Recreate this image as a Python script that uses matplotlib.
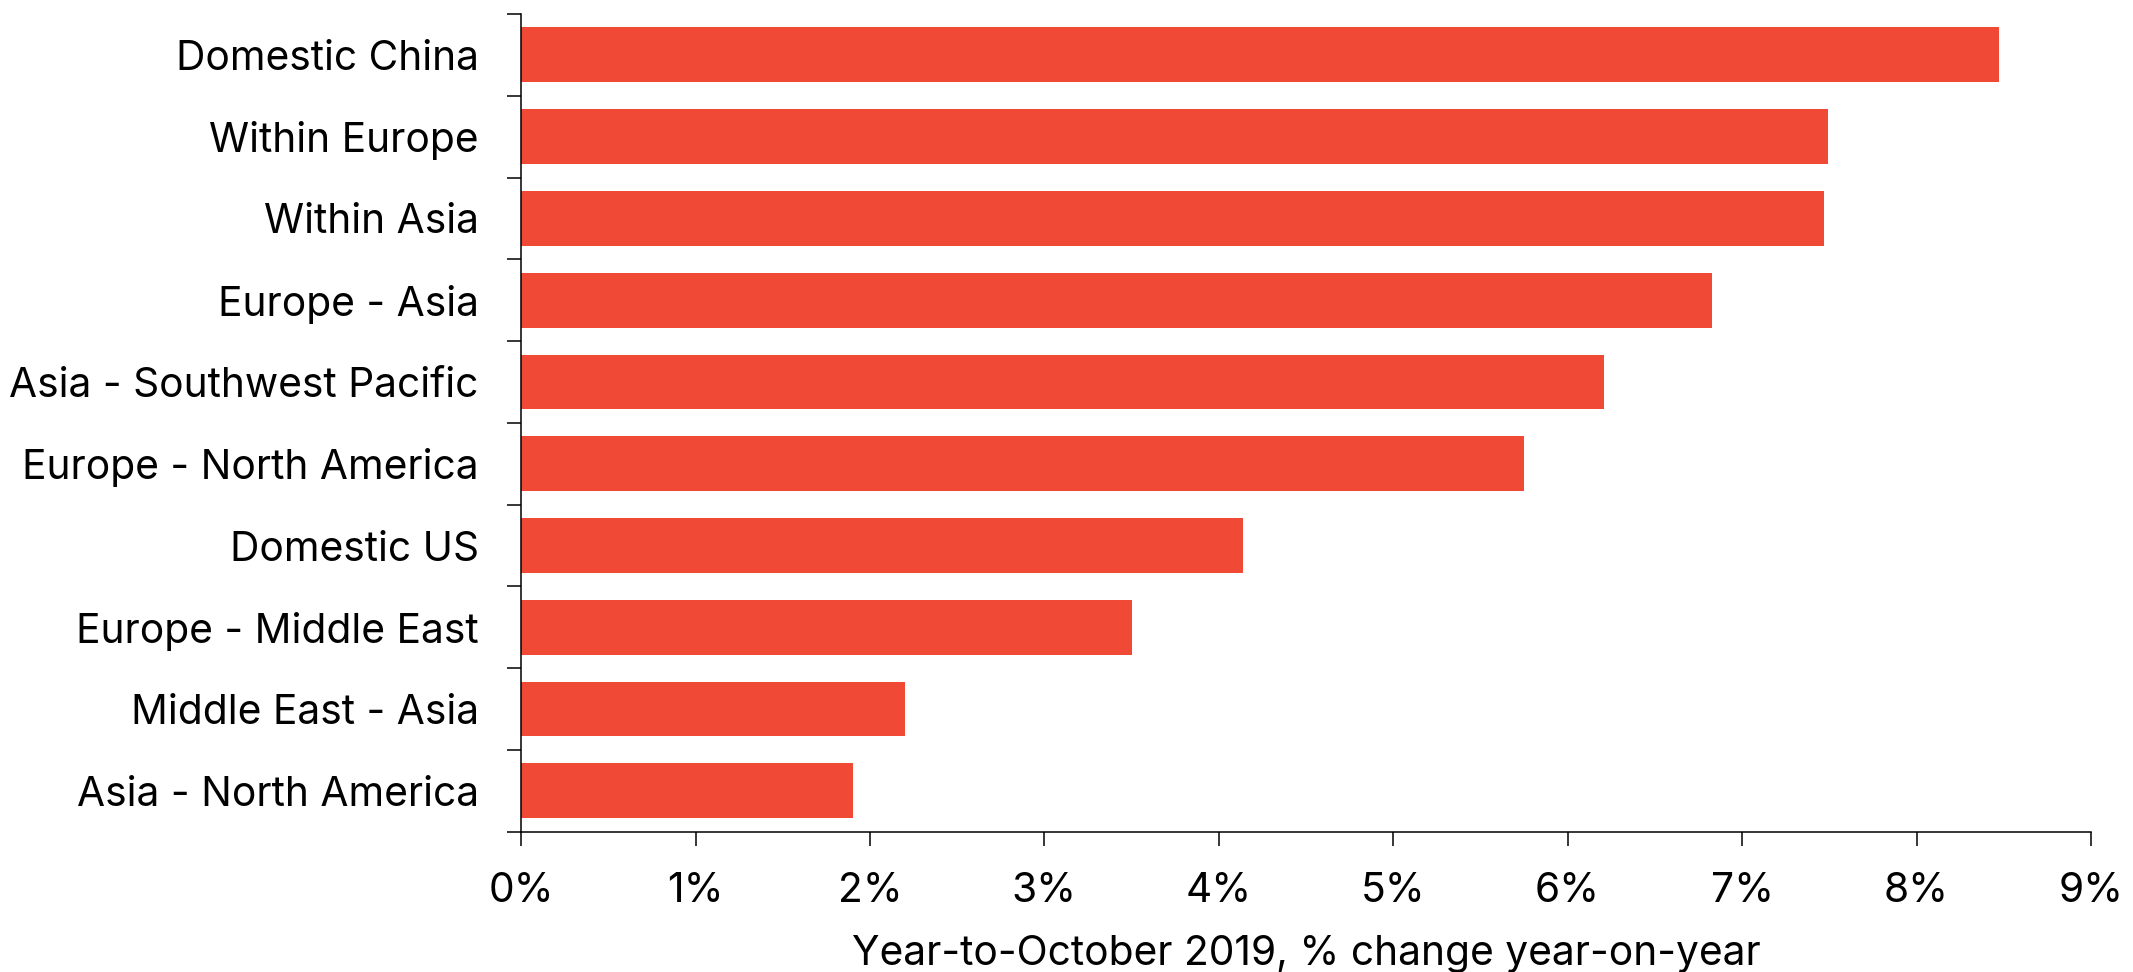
import matplotlib
matplotlib.use("Agg")
import matplotlib.pyplot as plt
from matplotlib.ticker import FixedLocator, FuncFormatter

plt.rcParams['font.family'] = ['Inter', 'DejaVu Sans']

# Passenger traffic growth by market, YTD Oct 2019 (% yoy)
routes = [
    "Domestic China",
    "Within Europe",
    "Within Asia",
    "Europe - Asia",
    "Asia - Southwest Pacific",
    "Europe - North America",
    "Domestic US",
    "Europe - Middle East",
    "Middle East - Asia",
    "Asia - North America",
]
growth = [8.47, 7.49, 7.47, 6.83, 6.21, 5.75, 4.14, 3.50, 2.20, 1.90]

BAR_COLOR = "#F04935"
FS = 29.3

fig = plt.figure(figsize=(21.33, 9.72), dpi=100)
ax = fig.add_axes([0.2443, 0.1443, 0.7360, 0.8413])

pos = list(range(len(routes)))
ax.barh(pos, growth, height=0.67, color=BAR_COLOR, linewidth=0)

ax.set_xlim(0, 9)
ax.set_ylim(len(routes) - 0.5, -0.5)

# category labels centred on bars, tick marks on the boundaries between them
ax.set_yticks(pos)
ax.set_yticklabels(routes, fontsize=FS)
ax.yaxis.set_minor_locator(FixedLocator([p - 0.5 for p in pos] + [len(routes) - 0.5]))
ax.tick_params(axis="y", which="major", length=0, pad=30.5)
ax.tick_params(axis="y", which="minor", length=10, width=1.1, color="black")

ax.set_xticks(range(10))
ax.xaxis.set_major_formatter(FuncFormatter(lambda v, _: f"{v:.0f}%"))
ax.tick_params(axis="x", which="major", length=10, width=1.1, pad=19, labelsize=FS)

ax.set_xlabel("Year-to-October 2019, % change year-on-year", fontsize=FS, labelpad=18)

for side in ("top", "right"):
    ax.spines[side].set_visible(False)
for side in ("left", "bottom"):
    ax.spines[side].set_linewidth(1.1)

fig.savefig("out.png", dpi=100)
